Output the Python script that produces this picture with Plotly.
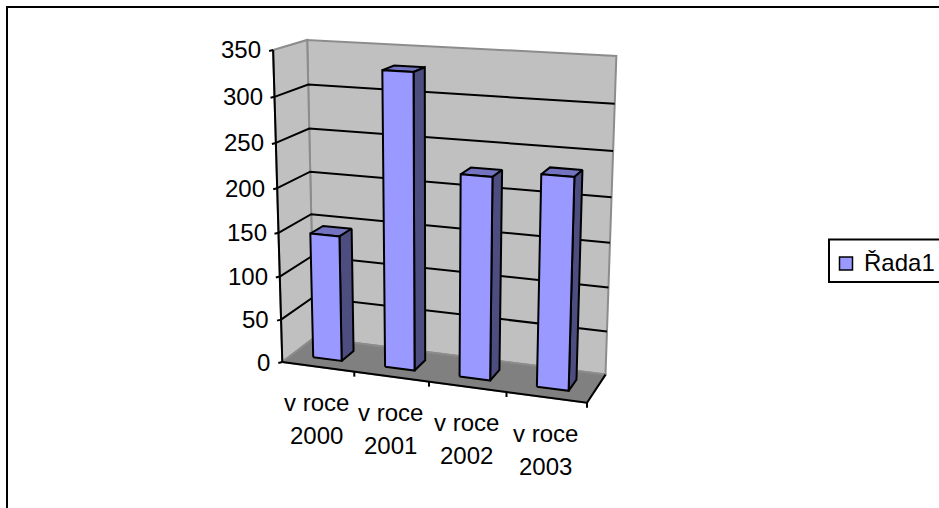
import numpy as np
import plotly.graph_objects as go

categories = ["v roce 2000", "v roce 2001", "v roce 2002", "v roce 2003"]
values = [145, 331, 226, 233]
y_ticks = [0, 50, 100, 150, 200, 250, 300, 350]
series_name = "Řada1"
Y_MAX = 350

# projective camera fitted to the reference's 3D box: (u, v, w) -> (px, py)
ref = [
    (0, 0, 0, 283, 361), (0, 0, 1, 272, 49), (0, 1, 0, 313, 337), (0, 1, 1, 308, 40),
    (1, 1, 0, 608, 373), (1, 1, 1, 617, 55), (1, 0, 0, 587, 403),
    (.25, 0, 0, 354, 372), (.5, 0, 0, 429, 382), (.75, 0, 0, 506, 393),
    (0, 0, 1/7, 282, 318), (0, 0, 2/7, 280, 277), (0, 0, 3/7, 279, 233),
    (0, 0, 4/7, 277, 189), (0, 0, 5/7, 276, 143), (0, 0, 6/7, 274, 97),
    (0, 1, 1/7, 312, 299), (0, 1, 2/7, 311, 257), (0, 1, 3/7, 311, 214),
    (0, 1, 4/7, 311, 172), (0, 1, 5/7, 310, 127), (0, 1, 6/7, 309, 85),
    (1, 1, 1/7, 607, 331), (1, 1, 2/7, 608, 287), (1, 1, 3/7, 609, 243),
    (1, 1, 4/7, 611, 198), (1, 1, 5/7, 613, 152), (1, 1, 6/7, 614, 104),
]
A, b = [], []
for u, v, w, px, py in ref:
    A.append([u, v, w, 1, 0, 0, 0, 0, -px*u, -px*v, -px*w]); b.append(px)
    A.append([0, 0, 0, 0, u, v, w, 1, -py*u, -py*v, -py*w]); b.append(py)
H = np.linalg.lstsq(np.array(A, float), np.array(b, float), rcond=None)[0]


def proj(u, v, w):
    d = H[8]*u + H[9]*v + H[10]*w + 1
    return ((H[0]*u + H[1]*v + H[2]*w + H[3]) / d,
            (H[4]*u + H[5]*v + H[6]*w + H[7]) / d)


fig = go.Figure()
LW = 2


def poly(points, fill, line="black", width=LW):
    pts = [proj(*p) for p in points] + [proj(*points[0])]
    fig.add_trace(go.Scatter(x=[p[0] for p in pts], y=[p[1] for p in pts], mode="lines",
                             fill="toself", fillcolor=fill,
                             line=dict(color=line, width=width), hoverinfo="skip"))


def seg(points, color="black", width=LW):
    pts = [proj(*p) for p in points]
    fig.add_trace(go.Scatter(x=[p[0] for p in pts], y=[p[1] for p in pts], mode="lines",
                             line=dict(color=color, width=width), hoverinfo="skip"))


WALL, FLOOR, EDGE = "#C0C0C0", "#808080", "#8C8C8C"
poly([(0, 1, 0), (1, 1, 0), (1, 1, 1), (0, 1, 1)], WALL, EDGE)
poly([(0, 0, 0), (0, 1, 0), (0, 1, 1), (0, 0, 1)], WALL, EDGE)
poly([(0, 0, 0), (1, 0, 0), (1, 1, 0), (0, 1, 0)], FLOOR, EDGE)

for t in y_ticks[1:-1]:
    w = t / Y_MAX
    seg([(0, 0, w), (0, 1, w), (1, 1, w)])
seg([(0, 0, 0), (0, 0, 1)])
seg([(0, 0, 0), (1, 0, 0), (1, 1, 0)])

# value-axis ticks and labels
for t in y_ticks:
    x0, y0 = proj(0, 0, t / Y_MAX)
    fig.add_trace(go.Scatter(x=[x0 - 4, x0], y=[y0 + 1, y0], mode="lines",
                             line=dict(color="black", width=LW), hoverinfo="skip"))
    fig.add_annotation(x=x0 - 10, y=y0, text=str(t), showarrow=False, xanchor="right", yanchor="middle")

# category ticks and two-line labels
n = len(categories)
for i in range(1, n + 1):
    x0, y0 = proj(i / n, 0, 0)
    fig.add_trace(go.Scatter(x=[x0, x0], y=[y0, y0 + 5], mode="lines",
                             line=dict(color="black", width=LW), hoverinfo="skip"))
for i, cat in enumerate(categories):
    x0, y0 = proj((i + .5) / n, 0, 0)
    first, second = cat.rsplit(" ", 1)
    fig.add_annotation(x=x0 - 1, y=y0 + 36, text=first, showarrow=False, xanchor="center", yanchor="middle")
    fig.add_annotation(x=x0 - 1, y=y0 + 69, text=second, showarrow=False, xanchor="center", yanchor="middle")

# bars
GAP = .3
for i, val in enumerate(values):
    u0, u1 = (i + GAP) / n, (i + 1 - GAP) / n
    v0, v1, w = .3, .7, val / Y_MAX
    poly([(u0, v0, w), (u1, v0, w), (u1, v1, w), (u0, v1, w)], "#7373BF")
    poly([(u1, v0, 0), (u1, v1, 0), (u1, v1, w), (u1, v0, w)], "#4D4D80")
    poly([(u0, v0, 0), (u1, v0, 0), (u1, v0, w), (u0, v0, w)], "#9999FF")

fig.add_trace(go.Scatter(x=[846], y=[263.5], mode="markers", hoverinfo="skip",
                         marker=dict(symbol="square", size=13, color="#9999FF",
                                     line=dict(color="black", width=1.5))))
fig.add_annotation(x=862, y=262, text=series_name, showarrow=False, xanchor="left", yanchor="middle")

fig.add_shape(type="line", x0=7, x1=7, y0=7, y1=508, line=dict(color="black", width=2))
fig.add_shape(type="line", x0=6, x1=939, y0=7, y1=7, line=dict(color="black", width=2))
fig.add_shape(type="rect", x0=829, x1=945, y0=239.5, y1=282, line=dict(color="black", width=LW))

fig.update_layout(
    width=939, height=508, margin=dict(l=0, r=0, t=0, b=0), autosize=False,
    paper_bgcolor="white", plot_bgcolor="white", showlegend=False,
    font=dict(family="Liberation Sans, Arial, sans-serif", size=24, color="black"),
    xaxis=dict(range=[0, 939], visible=False, fixedrange=True),
    yaxis=dict(range=[508, 0], visible=False, fixedrange=True),
)
fig.write_html("out.html", config={"displayModeBar": False},
               post_script="document.body.style.margin='0';document.documentElement.style.overflow='hidden';")
